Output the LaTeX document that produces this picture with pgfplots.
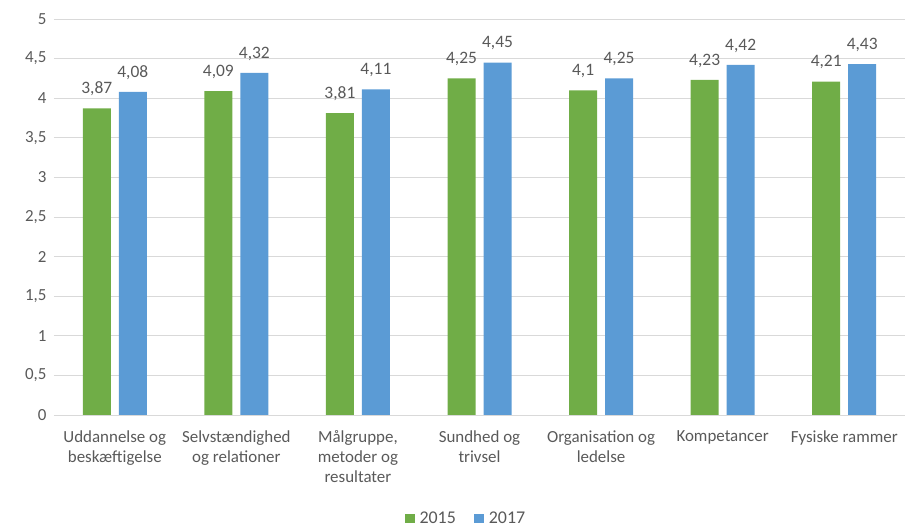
\documentclass[border=0pt]{standalone}
\usepackage{pgfplots}
\pgfplotsset{compat=1.18}
\usepackage{fontspec}
\setmainfont{Carlito}
\definecolor{cgreen}{HTML}{70AD47}
\definecolor{cblue}{HTML}{5B9BD5}
\definecolor{ctext}{HTML}{595959}
\definecolor{cgrid}{HTML}{D9D9D9}
\begin{document}
\begin{tikzpicture}
\path[use as bounding box] (0,0) rectangle (907bp,528bp);
\begin{axis}[
  at={(54bp,113bp)}, anchor=south west,
  scale only axis, width=851bp, height=396bp,
  ybar=8bp, bar width=28bp,
  xmin=-0.5, xmax=6.5, ymin=0, ymax=5,
  ytick={0,0.5,...,5},
  xtick={0,...,6},
  xticklabels={{Uddannelse og\\beskæftigelse},{Selvstændighed\\og relationer},{Målgruppe,\\metoder og\\resultater},{Sundhed og\\trivsel},{Organisation og\\ledelse},{Kompetancer},{Fysiske rammer}},
  xticklabel style={align=center, font=\fontsize{17}{20}\selectfont, text=ctext, anchor=north, yshift=-12bp},
  yticklabel style={font=\fontsize{17}{18}\selectfont, text=ctext, xshift=-4bp},
  /pgf/number format/use comma,
  /pgf/number format/assume math mode=true,
  ymajorgrids, grid style={cgrid, line width=0.8bp},
  axis x line*=bottom, axis y line*=left,
  x axis line style={cgrid, line width=0.8bp, -},
  y axis line style={draw=none},
  major tick length=0pt,
  ytick style={draw=none}, xtick style={draw=none},
  nodes near coords,
  every node near coord/.append style={font=\fontsize{17.5}{18}\selectfont, text=ctext, yshift=9bp, /pgf/number format/use comma, /pgf/number format/assume math mode=true},
  legend style={at={(0.484,-0.262)}, anchor=center, draw=none, legend columns=2, font=\fontsize{18}{18}\selectfont, text=ctext, /tikz/every even column/.append style={column sep=16bp}},
  legend image code/.code={\fill[#1] (0bp,-4.5bp) rectangle (10bp,5bp);},
]
\addplot[fill=cgreen, draw=none] coordinates {(0,3.87) (1,4.09) (2,3.81) (3,4.25) (4,4.1) (5,4.23) (6,4.21)};
\addplot[fill=cblue, draw=none] coordinates {(0,4.08) (1,4.32) (2,4.11) (3,4.45) (4,4.25) (5,4.42) (6,4.43)};
\legend{\hspace{3bp}2015,\hspace{3bp}2017}
\end{axis}
\end{tikzpicture}
\end{document}
